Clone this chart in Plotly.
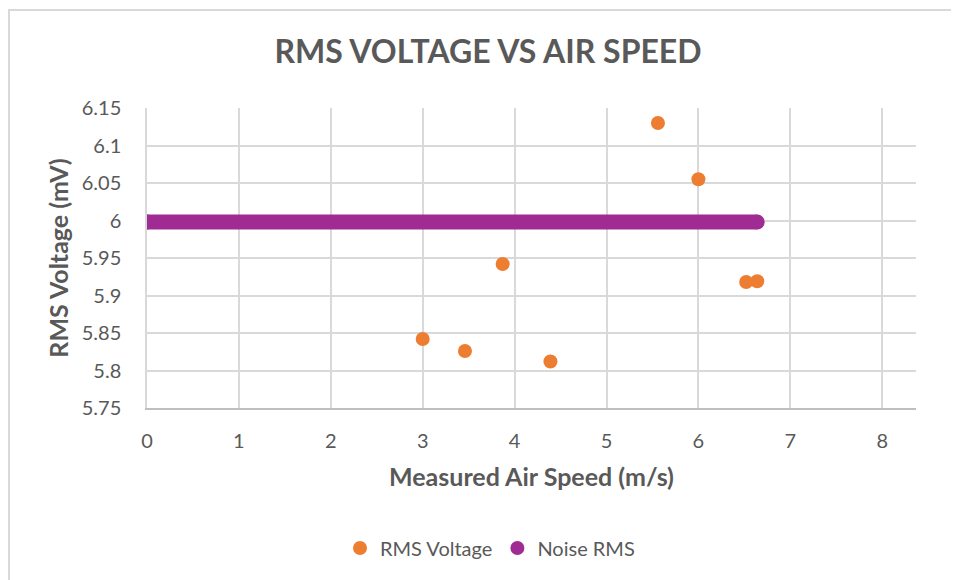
import plotly.graph_objects as go

# Data
air_speed = [3.0, 3.46, 3.87, 4.39, 5.56, 6.0, 6.52, 6.64]
rms_voltage = [5.842, 5.826, 5.942, 5.812, 6.130, 6.055, 5.918, 5.919]
noise_x = [0, 6.64]
noise_rms = [5.998, 5.998]

x_ticks = [0, 1, 2, 3, 4, 5, 6, 7, 8]
y_ticks = [5.75, 5.8, 5.85, 5.9, 5.95, 6.0, 6.05, 6.1, 6.15]
y_tick_text = ["5.75", "5.8", "5.85", "5.9", "5.95", "6", "6.05", "6.1", "6.15"]

ORANGE = "#ED7D31"
PURPLE = "#A02B93"
GREY = "#595959"
FONT = "Lato"

OFF = 8  # page body margin
W, H = 959 - OFF, 580 - OFF
# plot area in screen pixels
PX0, PX1, PY0, PY1 = 147, 916, 108, 408
L = PX0 - OFF
T = PY0 - OFF
R = W - (PX1 - OFF)
B = H - (PY1 - OFF)

fig = go.Figure()

fig.add_trace(go.Scatter(
    x=air_speed, y=rms_voltage, mode="markers", name="RMS Voltage",
    marker=dict(color=ORANGE, size=14),
))
fig.add_trace(go.Scatter(
    x=noise_x, y=noise_rms, mode="lines+markers", name="Noise RMS",
    line=dict(color=PURPLE, width=15),
    marker=dict(color=PURPLE, size=15), showlegend=False,
))
fig.add_trace(go.Scatter(
    x=[None], y=[None], mode="markers", name="Noise RMS",
    marker=dict(color=PURPLE, size=14),
))

pw = PX1 - PX0
ph = PY1 - PY0
def px_x(p):
    return (p - PX0) / pw
def px_y(p):
    return 1 - (p - PY0) / ph

fig.update_layout(
    width=W, height=H,
    margin=dict(l=L, r=R, t=T, b=B),
    paper_bgcolor="white", plot_bgcolor="white",
    font=dict(family=FONT, color=GREY, size=14),
    title=dict(text="<b>RMS VOLTAGE VS AIR SPEED</b>", x=px_x(488), xref="paper", xanchor="center",
               y=1 - (52 - OFF) / H, yref="container", yanchor="middle",
               font=dict(family=FONT, size=32, color=GREY)),
    showlegend=True,
    legend=dict(orientation="h", x=px_x(490), xanchor="center", y=px_y(548), yanchor="middle",
                font=dict(size=20, color=GREY), itemwidth=30, traceorder="normal"),
    shapes=[
        dict(type="line", xref="paper", yref="paper", x0=px_x(8), x1=px_x(959), y0=px_y(10), y1=px_y(10),
             line=dict(color="#D9D9D9", width=2)),
        dict(type="line", xref="paper", yref="paper", x0=px_x(9), x1=px_x(9), y0=px_y(10), y1=px_y(580),
             line=dict(color="#D9D9D9", width=2)),
    ],
)

fig.update_xaxes(
    range=[0, (PX1 - PX0) / 91.9], tickvals=x_ticks, ticktext=[str(v) for v in x_ticks],
    showgrid=True, gridcolor="#D9D9D9", gridwidth=1.5,
    showline=True, linecolor="#BFBFBF", linewidth=1.5,
    ticks="outside", ticklen=14, tickcolor="rgba(0,0,0,0)",
    tickfont=dict(size=20, color=GREY), zeroline=False,
    title=dict(text="<b>Measured Air Speed (m/s)</b>", font=dict(size=25, color=GREY), standoff=18),
)
fig.update_yaxes(
    range=[5.75, 6.15], tickvals=y_ticks, ticktext=y_tick_text,
    showgrid=True, gridcolor="#D9D9D9", gridwidth=1.5,
    showline=True, linecolor="#D9D9D9", linewidth=1.5,
    ticks="outside", ticklen=20, tickcolor="rgba(0,0,0,0)",
    tickfont=dict(size=20, color=GREY), zeroline=False,
    title=dict(text="<b>RMS Voltage (mV)</b>", font=dict(size=25, color=GREY), standoff=6),
)

fig.write_html("out.html", config={"displayModeBar": False})
